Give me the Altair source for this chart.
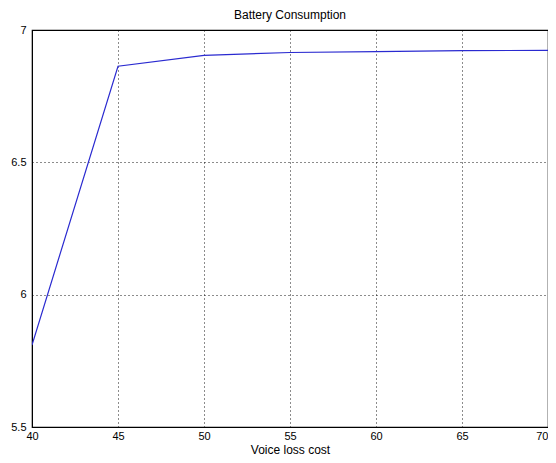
import altair as alt
import pandas as pd

voice_loss_cost = [40, 45, 50, 55, 60, 65, 70]
battery = [5.81, 6.863, 6.904, 6.915, 6.918, 6.922, 6.923]
x_ticks = [40, 45, 50, 55, 60, 65, 70]
y_ticks = [5.5, 6, 6.5, 7]

df = pd.DataFrame({"cost": voice_loss_cost, "battery": battery})

FONT = "Liberation Sans"

chart = (
    alt.Chart(df)
    .mark_line(color="#2a2ad0", strokeWidth=1.2, clip=True)
    .encode(
        x=alt.X(
            "cost:Q",
            scale=alt.Scale(domain=[40, 70], nice=False, zero=False),
            axis=alt.Axis(
                values=x_ticks,
                title="Voice loss cost",
                format="d",
                labelPadding=3,
                titlePadding=3,
                labelFlush=False,
                labelAlign=alt.expr("datum.value == 70 ? 'right' : 'center'"),
            ),
        ),
        y=alt.Y(
            "battery:Q",
            scale=alt.Scale(domain=[5.5, 7], nice=False, zero=False),
            axis=alt.Axis(
                values=y_ticks,
                title=None,
                format=".1~f",
                labelPadding=6,
                labelFlush=False,
            ),
        ),
    )
    .properties(
        width=516,
        height=397,
        title=alt.TitleParams(
            "Battery Consumption", fontSize=12, fontWeight="normal", font=FONT,
            offset=2, color="black",
        ),
        autosize=alt.AutoSizeParams(type="none"),
        padding={"left": 24, "top": 22, "right": 0, "bottom": 28},
    )
    .configure_view(stroke="black", strokeWidth=1.2)
    .configure_axis(
        labelFont=FONT,
        titleFont=FONT,
        labelFontSize=11,
        titleFontSize=12,
        titleFontWeight="normal",
        labelColor="black",
        titleColor="black",
        domainColor="black",
        ticks=False,
        grid=True,
        gridColor="black",
        gridOpacity=0.9,
        gridDash=[1, 3],
        gridWidth=1,
    )
)

chart.save("out.html", embed_options={"renderer": "svg", "actions": False})
